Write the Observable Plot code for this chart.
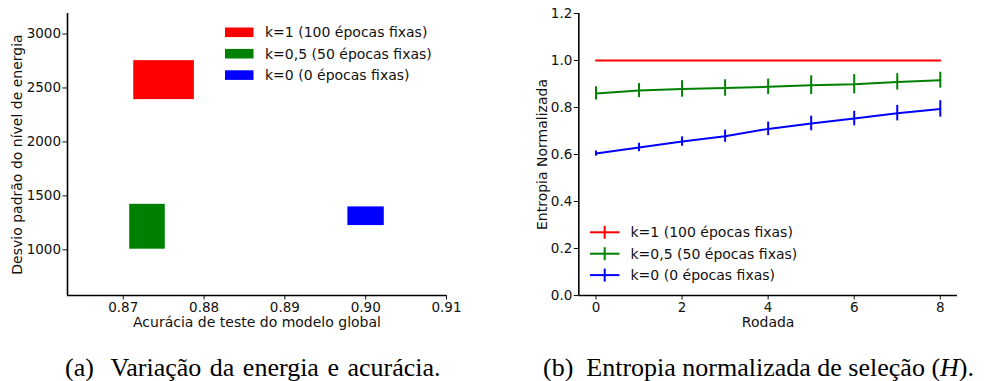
<!DOCTYPE html>
<html>
<head>
<meta charset="utf-8">
<script src="https://cdn.jsdelivr.net/npm/d3@7"></script>
<script src="https://cdn.jsdelivr.net/npm/@observablehq/plot@0.6"></script>
<style>
  html, body { margin: 0; padding: 0; background: #fff; }
  #root { position: relative; width: 984px; height: 381px; overflow: hidden; }
  .panel { position: absolute; top: 0; }
  .cap { position: absolute; font-family: "Liberation Serif", "Times New Roman", serif; font-size: 26px; line-height: 26px; white-space: pre; color: #000; }
</style>
</head>
<body>
<div id="root">
  <div class="panel" id="left" style="left:0px"></div>
  <div class="panel" id="right" style="left:520px"></div>
  <div class="cap" style="left:65px; top:355px; word-spacing:2px">(a)  Variação da energia e acurácia.</div>
  <div class="cap" style="left:543px; top:355px">(b)  Entropia normalizada de seleção (<i>H</i>).</div>
</div>
<script>
// ---------- Data ----------
const seriesLabels = ["k=1 (100 épocas fixas)", "k=0,5 (50 épocas fixas)", "k=0 (0 épocas fixas)"];
const seriesColors = ["#ff0000", "#008000", "#0000ff"];

// Panel (a): accuracy vs. std of energy level (rectangles)
const acurMin = [0.8713, 0.8708, 0.8978];
const acurMax = [0.8788, 0.8752, 0.9023];
const desvMin = [2392, 1006, 1225];
const desvMax = [2753, 1422, 1398];
const acurTicks = [0.87, 0.88, 0.89, 0.90, 0.91];
const desvTicks = [1000, 1500, 2000, 2500, 3000];

// Panel (b): normalized entropy per round
const rodadas = [0, 1, 2, 3, 4, 5, 6, 7, 8];
const entK1  = [1, 1, 1, 1, 1, 1, 1, 1, 1];
const errK1  = [0, 0, 0, 0, 0, 0, 0, 0, 0];
const entK05 = [0.860, 0.872, 0.879, 0.883, 0.888, 0.895, 0.899, 0.909, 0.916];
const errK05 = [0.028, 0.030, 0.035, 0.035, 0.033, 0.040, 0.041, 0.035, 0.034];
const entK0  = [0.604, 0.630, 0.655, 0.678, 0.709, 0.732, 0.753, 0.776, 0.794];
const errK0  = [0.011, 0.018, 0.020, 0.026, 0.029, 0.031, 0.031, 0.033, 0.035];
const rodadaTicks = [0, 2, 4, 6, 8];
const entTicks = [0, 0.2, 0.4, 0.6, 0.8, 1.0, 1.2];

// ---------- Build tables ----------
const rects = seriesLabels.map((s, i) => ({
  s, x1: acurMin[i], x2: acurMax[i], y1: desvMin[i], y2: desvMax[i]
}));
const entSeries = [entK1, entK05, entK0];
const errSeries = [errK1, errK05, errK0];
const ent = [];
seriesLabels.forEach((s, i) => {
  rodadas.forEach((r, j) => ent.push({ s, r, v: entSeries[i][j], e: errSeries[i][j] }));
});

const font = "DejaVu Sans, sans-serif";
const fs = "13.5px";
const lfs = 14;
const colorScale = { domain: seriesLabels, range: seriesColors };

// ---------- Panel (a) ----------
const leftDomX = [0.8631, 0.91];
const leftDomY = [577, 3190];
const leftPlot = Plot.plot({
  width: 470, height: 340,
  marginLeft: 67, marginTop: 13, marginRight: 24, marginBottom: 45,
  style: { fontFamily: font, fontSize: fs, color: "#111", background: "#fff", overflow: "visible" },
  color: colorScale,
  x: { domain: leftDomX, ticks: acurTicks, tickFormat: d3.format(".2f"), tickSize: 4.5, tickPadding: 2, label: null },
  y: { domain: leftDomY, ticks: desvTicks, tickFormat: d => String(d), tickSize: 4.5, tickPadding: 2, label: null },
  marks: [
    Plot.rect(rects, { x1: "x1", x2: "x2", y1: "y1", y2: "y2", fill: "s" }),
    Plot.ruleX([leftDomX[0]], { stroke: "#000", strokeWidth: 1.6 }),
    Plot.ruleY([leftDomY[0]], { stroke: "#000", strokeWidth: 1.6 }),
    Plot.text(["Desvio padrão do nível de energia"], { text: d => d, frameAnchor: "left", textAnchor: "middle", lineAnchor: "middle", dx: -50, rotate: -90, fontSize: lfs, fill: "#111" }),
    Plot.text(["Acurácia de teste do modelo global"], { text: d => d, frameAnchor: "bottom", textAnchor: "middle", lineAnchor: "middle", dy: 27, fontSize: lfs, fill: "#111" })
  ]
});
document.getElementById("left").appendChild(leftPlot);

// legend (a)
{
  const svg = d3.select(leftPlot);
  const g = svg.append("g").attr("font-family", font).attr("font-size", lfs).attr("fill", "#111").attr("text-anchor", "start");
  seriesLabels.forEach((s, i) => {
    const cy = 32.3 + i * 21.4;
    g.append("rect").attr("x", 225).attr("y", cy - 4.8).attr("width", 28.5).attr("height", 9.6).attr("fill", seriesColors[i]);
    g.append("text").attr("x", 265).attr("y", cy).attr("dy", "0.35em").text(s);
  });
}

// ---------- Panel (b) ----------
const rightDomX = [-0.4, 8.4];
const rightDomY = [0, 1.2];
const rightPlot = Plot.plot({
  width: 464, height: 340,
  marginLeft: 58.3, marginTop: 13, marginRight: 27, marginBottom: 45,
  style: { fontFamily: font, fontSize: fs, color: "#111", background: "#fff", overflow: "visible" },
  color: colorScale,
  x: { domain: rightDomX, ticks: rodadaTicks, tickFormat: d => String(d), tickSize: 4.5, tickPadding: 2, label: null },
  y: { domain: rightDomY, ticks: entTicks, tickFormat: d3.format(".1f"), tickSize: 4.5, tickPadding: 2, label: null },
  marks: [
    Plot.line(ent, { x: "r", y: "v", z: "s", stroke: "s", strokeWidth: 2 }),
    Plot.ruleX(ent.filter(d => d.e > 0), { x: "r", y1: d => d.v - d.e, y2: d => d.v + d.e, stroke: "s", strokeWidth: 2 }),
    Plot.ruleX([rightDomX[0]], { stroke: "#000", strokeWidth: 1.6 }),
    Plot.ruleY([rightDomY[0]], { stroke: "#000", strokeWidth: 1.6 }),
    Plot.text(["Entropia Normalizada"], { text: d => d, frameAnchor: "left", textAnchor: "middle", lineAnchor: "middle", dx: -36.6, rotate: -90, fontSize: lfs, fill: "#111" }),
    Plot.text(["Rodada"], { text: d => d, frameAnchor: "bottom", textAnchor: "middle", lineAnchor: "middle", dy: 27, fontSize: lfs, fill: "#111" })
  ]
});
document.getElementById("right").appendChild(rightPlot);

// legend (b)
{
  const svg = d3.select(rightPlot);
  const g = svg.append("g").attr("font-family", font).attr("font-size", lfs).attr("fill", "#111").attr("text-anchor", "start");
  seriesLabels.forEach((s, i) => {
    const cy = 232.3 + i * 21.4;
    g.append("line").attr("x1", 70).attr("x2", 99.5).attr("y1", cy).attr("y2", cy).attr("stroke", seriesColors[i]).attr("stroke-width", 2);
    g.append("line").attr("x1", 84.7).attr("x2", 84.7).attr("y1", cy - 6.5).attr("y2", cy + 6.5).attr("stroke", seriesColors[i]).attr("stroke-width", 2);
    g.append("text").attr("x", 110.5).attr("y", cy).attr("dy", "0.35em").text(s);
  });
}
</script>
</body>
</html>
